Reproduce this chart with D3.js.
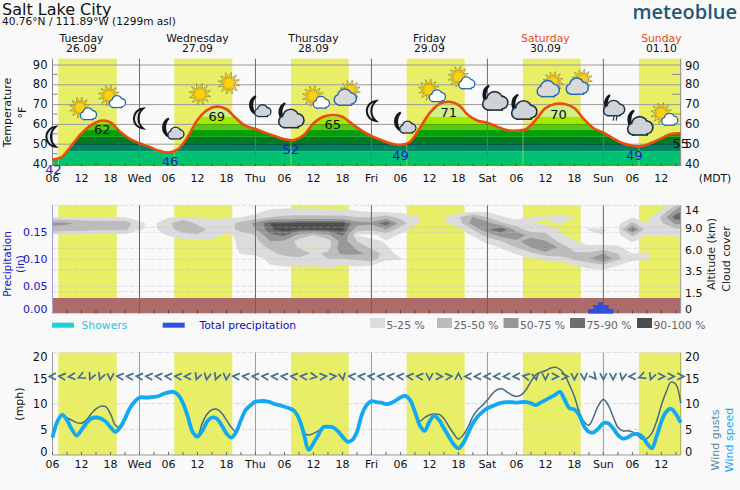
<!DOCTYPE html>
<html><head><meta charset="utf-8"><script src="https://cdn.jsdelivr.net/npm/d3@7"></script>
<style>html,body{margin:0;padding:0;background:#f9f9f9}svg{display:block;font-family:"DejaVu Sans",sans-serif}</style></head>
<body><svg id="c" width="740" height="490"></svg>
<script>
const tempHours=d3.range(6,137,2);
const temperature=[42,43.4,49.3,55.2,59.4,61.6,60.8,56,52.4,50.2,48.5,46.5,45.5,47.3,53.5,62,67,68.7,67.4,62.8,59,57.4,55.6,53.9,52.2,51.9,54.4,60.3,63.6,64.5,63.6,60,56.6,53.9,51.9,50.1,49.4,51,57.8,65.3,70,71.2,69.6,64.5,61.6,60.6,58.6,56.9,56.6,57.3,62,67.9,70,70,67.9,62.3,57.8,55.6,52.7,50.2,49,48.8,50.5,52.7,54.9,55.3];
const tempBandEdges=[30,40.1,46.2,49.9,53.5,56.9,60,63.6,95];
const tempBandColors=["#12d03a","#00c072","#008064","#007a24","#00a00c","#5cc80e","#a2ea00","#cdf08c"];
const tempLabelHours=[6.2,30.3,16.3,40,55.3,64,78,88,110.7,126.4,136];
const tempLabelValues=[42,46,62,69,52,65,49,71,70,49,55];
const tempLabelIsMin=[1,1,0,0,1,0,1,0,0,1,0];
const dayStart=[7.2,31.2,55.35,79.3,103.35,127.35];
const dayEnd=[19.3,43.2,67.3,91.3,115.3,136];
const dayNames=["Tuesday","Wednesday","Thursday","Friday","Saturday","Sunday"];
const dayDates=["26.09","27.09","28.09","29.09","30.09","01.10"];
const dayWeekend=[0,0,0,0,1,1];
const shortDays=["Wed","Thu","Fri","Sat","Sun"];
const tempTicks=[90,80,70,60,50,40];
const tempMinorTicks=[85,75,65,55,45];
const precipTicks=[0.15,0.10,0.05];
const altTicks=[14,9,6,3.5,1.5];
const altTickLabels=["14","9.0","6.0","3.5","1.5"];
const windTicks=[20,15,10,5,0];
const iconHours=[6,12.3,18.3,24.1,30.5,36.5,42.5,48.5,55,60.5,67,72.3,78.5,84.5,90.6,97.2,103.2,109,115,121.6,127.2,132.6];
const iconTemps=[53.5,67.2,73.3,62.7,57.7,75,80.5,69,64.4,73,75,66.5,60.7,76.3,82.8,73.3,68.7,79.3,80.5,68.2,60.7,64.4];
const iconKinds=["moon","sunS","sunS","moon","moonS","sun","sun","moonS","moonB","sunS","sunB","moon","moonS","sunS","sunS","moonB","moonB","sunB","sunB","moonR","moonB","sunS"];
// cloud cover %, one array per 3-hour column from hour 6; rows top to bottom
const cloudAlts=[14,12.6,11.3,9.9,8.7,7.9,7,6.1,5.4,4.8,4.1,3.4];
const cloudColumns=[
[0,0,5,58,40,0,0,0,0,0,0,0],[0,0,5,55,35,0,0,0,0,0,0,0],[0,0,4,42,35,0,0,0,0,0,0,0],[0,0,4,40,30,0,0,0,0,0,0,0],[0,0,4,38,30,0,0,0,0,0,0,0],
[0,0,4,40,30,0,0,0,0,0,0,0],[0,0,2,7,6,0,0,0,0,0,0,0],[0,0,1,2,2,1,0,0,0,0,0,0],[0,0,4,18,15,6,0,0,0,0,0,0],[0,0,4,52,40,14,0,0,0,0,0,0],
[0,0,3,18,42,22,0,0,0,0,0,0],[0,0,3,10,15,15,0,0,0,0,0,0],[0,0,3,14,12,1,0,0,0,0,0,0],[0,0,5,32,35,10,8,7,5.5,0,0,0],[0,2,8,58,48,24,16,11,7,2,0,0],
[0,8,25,90,88,70,50,30,15,7,5,0],[0,10,30,92,96,80,45,50,35,12,7,0],[0,10,32,96,90,42,15,22,45,18,7,0],[0,10,32,96,92,25,6,3,20,22,7,0],[0,8,32,96,92,45,14,15,30,25,8,0],
[0,8,32,96,96,78,62,70,55,25,6,0],[0,6,25,60,35,4,25,45,55,30,7,0],[0,3,25,55,30,1,8,20,45,38,6,0],[0,0,35,92,50,12,4,6,12,7,0,0],[0,0,18,40,12,3,0,0,0,6,0,0],
[0,0,7,7,0,0,0,0,0,0,0,0],[5.5,0,0,0,5.5,0,0,0,0,0,0,0],[5.5,0,5,3,5.5,0,0,0,0,0,0,0],[0,0,22,12,0,0,0,0,0,0,0,0],[0,0,52,62,25,6,0,0,0,0,0,0],
[0,3,25,58,72,35,8,0,0,0,0,0],[5.5,0,6,28,92,62,25,6,0,0,0,0],[0,0,1,12,38,68,45,25,6,0,0,0],[0,0,5.5,6,12,40,62,50,18,3,0,0],[5.5,0,6,2,18,30,52,78,38,7,0,0],
[0,0,7,6,4,7,18,45,45,10,0,0],[5,0,5.5,0,0,0,6,12,30,30,6,0],[0,0,0,0,6,0,0,8,28,48,12,0],[0,0,0,0,6,5,0,10,50,78,22,0],[0,0,0,0,0,0,0,7,25,30,6,0],
[0,0,5,30,85,30,6,0,5,8,0,0],[5,0,0,5,8,5,0,0,6,6,0,0],[0,6,28,22,10,5,0,0,0,0,0,0],[25,60,92,55,22,7,0,0,0,0,0,0],[80,92,88,55,15,5,0,0,0,0,0,0]];
const cloudThresholds=[5,25,50,75,90];
const cloudColors=["#dcdcdc","#bcbcbc","#979797","#6e6e6e","#4d4d4d"];
const cloudLegend=["5-25 %","25-50 %","50-75 %","75-90 %","90-100 %"];
const precipHours=[117,118,119,120,121];
const precipValues=[0.0074,0.015,0.02,0.015,0.0074];
const windHours=d3.range(6,137);
const windSpeed=[3.4,6.5,7.8,6.8,5.0,3.8,4.9,6.2,7.1,7.3,7.1,6.5,5.4,4.5,5.4,7.1,9.1,10.4,11.2,11.2,11.2,11.3,11.5,11.9,12.2,12.3,11.7,10.1,7.5,4.5,3.6,4.7,6.5,7.3,7.1,5.8,4.2,3.4,4.5,6.8,8.8,9.7,10.4,10.5,10.5,10.3,9.9,9.7,9.4,9.1,8.6,7.1,4.2,1.0,2.3,3.9,5.4,5.5,5.4,4.7,3.6,2.6,2.9,4.5,7.8,9.7,10.5,10.3,10.2,9.9,10.1,10.6,11.2,11.5,10.7,8.4,5.8,4.7,6.5,7.6,6.8,5.2,3.6,2.1,1.3,2.3,4.2,6.2,7.5,8.4,9.1,9.5,9.9,10.2,10.3,10.3,10.2,10.3,10.3,10.1,9.7,10.2,10.7,11.2,11.7,12.3,10.7,9.1,8.9,7.8,5.6,4.5,4.4,5.2,6.2,6.2,5.2,3.9,3.2,3.4,4.0,4.1,3.6,2.3,1.3,3.6,6.5,8.4,9.0,8.0,6.3];
const windGusts=[3.4,6.5,7.8,7.2,6.8,6.3,6.2,6.8,8.0,9.0,9.5,9.4,8.0,5.8,5.4,7.1,9.1,10.4,11.2,11.2,11.2,11.3,11.5,11.9,12.2,12.3,11.7,10.1,7.5,4.6,3.8,6.2,8.0,8.8,8.9,8.2,6.8,5.4,4.5,6.8,8.8,9.7,10.4,10.5,10.5,10.3,9.9,9.7,9.4,9.1,8.6,7.1,4.3,3.9,4.2,4.7,5.4,5.5,5.4,4.7,3.6,2.6,2.9,4.5,7.8,9.7,10.5,10.3,10.2,9.9,10.1,10.6,11.2,11.5,10.7,8.6,6.6,7.3,7.8,8.0,7.9,7.1,5.6,4.2,3.1,3.9,5.5,7.5,8.8,9.7,10.7,11.9,12.7,12.9,12.3,11.7,11.4,11.7,12.7,14.3,15.6,16.1,16.4,16.9,17.1,16.7,15.6,13.6,11.4,8.4,6.5,5.8,7.5,9.7,10.8,9.7,7.5,5.4,4.7,4.7,4.5,3.9,3.1,3.2,4.2,6.5,9.7,12.3,14.2,13.8,10.1];
const arrowHours=d3.range(6,137,2);
const arrowDirections=[270,275,265,245,205,200,180,275,275,275,275,275,275,275,270,200,190,200,185,275,275,275,275,275,275,275,275,100,85,85,170,275,275,275,275,275,275,275,275,180,90,85,0,270,270,270,270,270,270,280,170,180,90,90,180,175,140,180,180,190,270,250,200,90,90,90];

const svg=d3.select("#c");
const x=d3.scaleLinear().domain([6,136]).range([52.5,680.7]);
const yT=d3.scaleLinear().domain([90,40]).range([64.5,163.5]);
const yP=d3.scaleLinear().domain([0,0.2]).range([313.3,205.3]);
const yA=d3.scaleLinear().domain([14,9,6,3.5,1.5,0]).range([205.3,227.3,248.3,270,291.7,313.3]);
const yW=d3.scaleLinear().domain([0,20]).range([455,352.3]);
const L=52.5,R=680.7;
const hours6=d3.range(6,137,6),hours3=d3.range(6,137,3);
const dayLines=d3.range(24,136,24);
const txt=(g,s,px,py,o={})=>g.append("text").attr("x",px).attr("y",py).attr("text-anchor",o.a||"middle").attr("dominant-baseline","central").attr("font-size",o.s||11.5).attr("fill",o.c||"#111").attr("font-weight",o.w||null).attr("font-family",o.f||null).attr("transform",o.r?`rotate(${o.r} ${px} ${py})`:null).text(s);

// header
txt(svg,"Salt Lake City",2,9,{a:"start",s:16});
txt(svg,"40.76°N / 111.89°W (1299m asl)",2,21,{a:"start",s:10.6});
txt(svg,"meteoblue",737,11,{a:"end",s:20,c:"#235878",w:600,f:"'Open Sans',sans-serif"});
dayNames.forEach((d,i)=>{const cx=x(12+24*i);
  txt(svg,d,cx,38,{c:dayWeekend[i]?"#ea4810":"#111",s:10.8});
  txt(svg,dayDates[i],cx,48,{s:10.8});});

function yellow(top,bot){const g=svg.append("g");
  dayStart.forEach((s,i)=>g.append("rect").attr("x",x(s)).attr("width",x(dayEnd[i])-x(s)).attr("y",top).attr("height",bot-top).attr("fill","#e8ee66"));}
function xLabels(py){const g=svg.append("g");
  hours6.forEach(h=>{const d=h%24===0;txt(g,d?shortDays[h/24-1]:String(h%24).padStart(2,"0"),x(h),py,{s:11});});}
function ticks3(y0,len,col){const g=svg.append("g");
  hours3.forEach(h=>g.append("line").attr("x1",x(h)).attr("x2",x(h)).attr("y1",y0-len).attr("y2",y0).attr("stroke",col).attr("stroke-width",1));}

// temperature panel
yellow(58.7,166);
const gridT=svg.append("g");
tempTicks.forEach(t=>gridT.append("line").attr("x1",L).attr("x2",R).attr("y1",yT(t)+.5).attr("y2",yT(t)+.5).attr("stroke","#9a9a9a"));
tempMinorTicks.forEach(t=>{gridT.append("line").attr("x1",L).attr("x2",L+5).attr("y1",yT(t)).attr("y2",yT(t)).attr("stroke","#888");
  gridT.append("line").attr("x1",R-9).attr("x2",R).attr("y1",yT(t)).attr("y2",yT(t)).attr("stroke","#888");});
const tPts=tempHours.map((h,i)=>[h,temperature[i]]);
const cv=d3.curveCatmullRom;
const area=d3.area().x(d=>x(d[0])).y0(166).y1(d=>yT(d[1])).curve(cv);
svg.append("clipPath").attr("id","tc").append("path").attr("d",area(tPts));
const bands=svg.append("g").attr("clip-path","url(#tc)");
tempBandColors.forEach((c,i)=>bands.append("rect").attr("x",L).attr("width",R-L).attr("y",yT(tempBandEdges[i+1])).attr("height",yT(tempBandEdges[i])-yT(tempBandEdges[i+1])).attr("fill",c));
tempTicks.forEach(t=>bands.append("line").attr("x1",L).attr("x2",R).attr("y1",yT(t)+.5).attr("y2",yT(t)+.5).attr("stroke","#000").attr("stroke-opacity",t==50?.45:.2));
const dl=svg.append("g");
dayLines.forEach(h=>dl.append("line").attr("x1",x(h)).attr("x2",x(h)).attr("y1",58.7).attr("y2",158).attr("stroke","#6d6d6d"));
dayStart.forEach(s=>dl.append("line").attr("x1",x(s)).attr("x2",x(s)).attr("y1",130).attr("y2",166).attr("stroke","#e8ee66").attr("stroke-opacity",.5));
ticks3(166,2.5,"#2a6a30");
svg.append("line").attr("x1",R).attr("x2",R).attr("y1",58.7).attr("y2",166).attr("stroke","#888");
svg.append("line").attr("x1",L).attr("x2",L).attr("y1",58.7).attr("y2",166).attr("stroke","#888");
svg.append("path").attr("d",d3.line().x(d=>x(d[0])).y(d=>yT(d[1])).curve(cv)(tPts)).attr("fill","none").attr("stroke","#ea4c0c").attr("stroke-width",2.6);
tempLabelHours.forEach((h,i)=>txt(svg,tempLabelValues[i],x(h),yT(tempLabelValues[i])+10,{s:13,c:tempLabelIsMin[i]?"#1c1cc8":"#111"}));
tempTicks.forEach(t=>{txt(svg,t,47.5,yT(t),{a:"end",s:11.5});txt(svg,t,685,yT(t)+(t==90?1:0),{a:"start",s:11.5});});
txt(svg,"Temperature",7.5,112.5,{r:-90,s:11});txt(svg,"°F",22,112.5,{r:-90,s:11});
xLabels(178);txt(svg,"(MDT)",715,178,{s:10.8});

// icons
function cloudShape(g,cx,cy,w,fill,stroke,sw){const u=w/20;
  const parts=[[-5.5,2,4.3],[-0.5,-1.6,6],[5.2,0.8,4.7]];
  const draw=(extra,col)=>{parts.forEach(p=>g.append("circle").attr("cx",cx+p[0]*u).attr("cy",cy+p[1]*u).attr("r",p[2]*u+extra).attr("fill",col));
    g.append("rect").attr("x",cx-5.5*u-extra).attr("y",cy+1*u-extra).attr("width",10.7*u+2*extra).attr("height",5.4*u+2*extra).attr("fill",col);};
  draw(sw,stroke);draw(0,fill);}
function sunShape(g,cx,cy,r){d3.range(12).map(i=>i*30).forEach(a=>{const t=(a+12)*Math.PI/180,ux=Math.cos(t),uy=Math.sin(t),vx=-uy,vy=ux,b=r+1,e=r*2.15,w=1.4;
    g.append("path").attr("d",`M${cx+ux*b+vx*w},${cy+uy*b+vy*w}L${cx+ux*e},${cy+uy*e}L${cx+ux*b-vx*w},${cy+uy*b-vy*w}Z`).attr("fill","#f8e428").attr("stroke","#8a7a30").attr("stroke-width",.6);});
  g.append("circle").attr("cx",cx).attr("cy",cy).attr("r",r).attr("fill","#fcd208").attr("stroke","#e89a10").attr("stroke-width",.8);}
function moonShape(g,cx,cy,k){g.append("path").attr("d",`M${cx+3*k},${cy-9.5*k}A10 10 0 0 0 ${cx+3*k},${cy+9.5*k}A13 13 0 0 1 ${cx+3*k},${cy-9.5*k}Z`).attr("fill","#e6e6e6").attr("stroke","#11171c").attr("stroke-width",2);}
const icons=svg.append("g");
iconHours.forEach((h,i)=>{const X=x(h),Y=yT(iconTemps[i]),k=iconKinds[i],g=icons.append("g");
  if(k=="moon")moonShape(g,X,Y,1.05);
  if(k=="sun")sunShape(g,X,Y,5.2);
  if(k=="sunS"){sunShape(g,X-3,Y-2,5);cloudShape(g,X+5.5,Y+4.5,15,"#fff","#2266b4",1.3);}
  if(k=="sunB"){sunShape(g,X+3,Y-4,4.8);cloudShape(g,X-2,Y+3.5,21,"#dadada","#2a6ab8",1.5);}
  if(k=="moonS"){moonShape(g,X-5,Y-1,.95);cloudShape(g,X+5,Y+5,15,"#d0d4d8","#1c3040",1.3);}
  if(k=="moonB"){moonShape(g,X-7,Y-3,.95);cloudShape(g,X+2,Y+4,24,"#cfd2d6","#1c3040",1.6);}
  if(k=="moonR"){moonShape(g,X-4,Y-4,.9);cloudShape(g,X+3,Y+1,20,"#d0d4d8","#1c3040",1.4);
    [0,3].forEach(d=>g.append("line").attr("x1",X+3+d).attr("x2",X+2+d).attr("y1",Y+8).attr("y2",Y+13).attr("stroke","#1c3040").attr("stroke-width",1.2));}
});

// cloud panel
yellow(205.3,298);
svg.append("clipPath").attr("id","cc").append("rect").attr("x",L).attr("y",205.3).attr("width",R-L).attr("height",93);
const nC=cloudColumns.length,nR=cloudAlts.length;
const flat=[];for(let r=0;r<nR;r++)for(let c=0;c<nC;c++)flat.push(cloudColumns[c][r]);
const rowY=d3.scaleLinear().domain(d3.range(nR)).range(cloudAlts.map(a=>yA(a)));
const proj=d3.geoTransform({point(px,py){this.stream.point(x(6+(px-.5)*3),rowY(py-.5));}});
const gp=d3.geoPath(proj);
const cl=svg.append("g").attr("clip-path","url(#cc)");
d3.contours().size([nC,nR]).thresholds(cloudThresholds)(flat).forEach((c,i)=>cl.append("path").attr("d",gp(c)).attr("fill",cloudColors[i]));
altTicks.forEach(a=>svg.append("line").attr("x1",L).attr("x2",R).attr("y1",yA(a)).attr("y2",yA(a)).attr("stroke","#b8b8b8").attr("stroke-opacity",.55).attr("stroke-dasharray","5,2").attr("stroke-width",.8));
precipTicks.forEach(p=>svg.append("line").attr("x1",L).attr("x2",R).attr("y1",yP(p)).attr("y2",yP(p)).attr("stroke","#b8b8ee").attr("stroke-opacity",.55).attr("stroke-dasharray","5,2").attr("stroke-width",.8));
svg.append("rect").attr("x",L).attr("y",298).attr("width",R-L).attr("height",15.3).attr("fill","#ad6b6b");
precipHours.forEach((h,i)=>svg.append("rect").attr("x",x(h)).attr("width",x(h+1)-x(h)).attr("y",yP(precipValues[i])).attr("height",yP(0)-yP(precipValues[i])).attr("fill","#2f50e6").attr("stroke","#2040c0").attr("stroke-width",.4));
ticks3(313.3,3,"#444");
dayLines.forEach(h=>svg.append("line").attr("x1",x(h)).attr("x2",x(h)).attr("y1",205.3).attr("y2",313.3).attr("stroke","#666"));
svg.append("line").attr("x1",L).attr("x2",L).attr("y1",205.3).attr("y2",313.3).attr("stroke","#a4a4dc");
svg.append("line").attr("x1",R).attr("x2",R).attr("y1",205.3).attr("y2",313.3).attr("stroke","#999");
precipTicks.forEach(p=>txt(svg,p.toFixed(2),47.5,yP(p)+.5,{a:"end",c:"#1414c8",s:11}));
txt(svg,"0.00",47.5,309.5,{a:"end",c:"#1414c8",s:11});
txt(svg,"Precipitation",7,264,{r:-90,c:"#1414c8",s:10.5});txt(svg,"(in)",20,264,{r:-90,c:"#1414c8",s:10.5});
altTicks.forEach((a,i)=>txt(svg,altTickLabels[i],685,[210,228,250,271,293][i],{a:"start",s:11}));
txt(svg,"0",685,309.5,{a:"start",s:11});
txt(svg,"Altitude (km)",711,254,{r:-90,s:11,c:"#222"});txt(svg,"Cloud cover",726,259,{r:-90,s:11,c:"#222"});
// legend
svg.append("rect").attr("x",52).attr("y",322.7).attr("width",22).attr("height",5).attr("fill","#16d4d8");
txt(svg,"Showers",81.5,325,{a:"start",c:"#22c4e8",s:10.8});
svg.append("rect").attr("x",162.7).attr("y",322.7).attr("width",22).attr("height",5).attr("fill","#2f50e6");
txt(svg,"Total precipitation",199.5,325,{a:"start",c:"#1010b0",s:10.8});
const swX=[370,437,503.5,570,637];
cloudLegend.forEach((s,i)=>{svg.append("rect").attr("x",swX[i]).attr("y",318).attr("width",15).attr("height",10).attr("fill",cloudColors[i]);
  txt(svg,s,swX[i]+16.5,325,{a:"start",c:"#666",s:10.8});});

// wind panel
yellow(352.3,455);
[20,15,10,5].forEach(m=>svg.append("line").attr("x1",L).attr("x2",R).attr("y1",yW(m)).attr("y2",yW(m)).attr("stroke","#d8d8ee").attr("stroke-dasharray","5,2"));
dayLines.forEach(h=>svg.append("line").attr("x1",x(h)).attr("x2",x(h)).attr("y1",352.3).attr("y2",455).attr("stroke","#999"));
svg.append("line").attr("x1",L).attr("x2",L).attr("y1",352.3).attr("y2",455).attr("stroke","#999");
svg.append("line").attr("x1",R).attr("x2",R).attr("y1",352.3).attr("y2",455).attr("stroke","#a8a850");
svg.append("line").attr("x1",L).attr("x2",R).attr("y1",455).attr("y2",455).attr("stroke","#999");
ticks3(455,3,"#666");
const wl=d3.line().x(d=>x(d[0])).y(d=>yW(d[1])).curve(d3.curveCatmullRom);
arrowHours.forEach((h,i)=>svg.append("path").attr("transform",`translate(${x(h)},${yW(15.3)}) rotate(${arrowDirections[i]})`).attr("d","M-3.4,3.4L0,-3.2L3.4,3.4").attr("fill","none").attr("stroke","#44708c").attr("stroke-width",1.7));
svg.append("path").attr("d",wl(windHours.map((h,i)=>[h,windGusts[i]]))).attr("fill","none").attr("stroke","#4a6a80").attr("stroke-width",1.5);
svg.append("path").attr("d",wl(windHours.map((h,i)=>[h,windSpeed[i]]))).attr("fill","none").attr("stroke","#10aaf4").attr("stroke-width",3.8);
windTicks.forEach(m=>{const o={20:4.5,15:1.5,10:0,5:0.5,0:-3}[m];txt(svg,m,47.5,yW(m)+o,{a:"end",s:11.5});txt(svg,m,685,yW(m)+o,{a:"start",s:11.5});});
txt(svg,"(mph)",19,404,{r:-90,s:11});
xLabels(464);
txt(svg,"Wind gusts",715,440,{r:-90,s:11,c:"#5a88a4"});txt(svg,"Wind speed",729,440,{r:-90,s:11,c:"#10aaf4"});
</script></body></html>
